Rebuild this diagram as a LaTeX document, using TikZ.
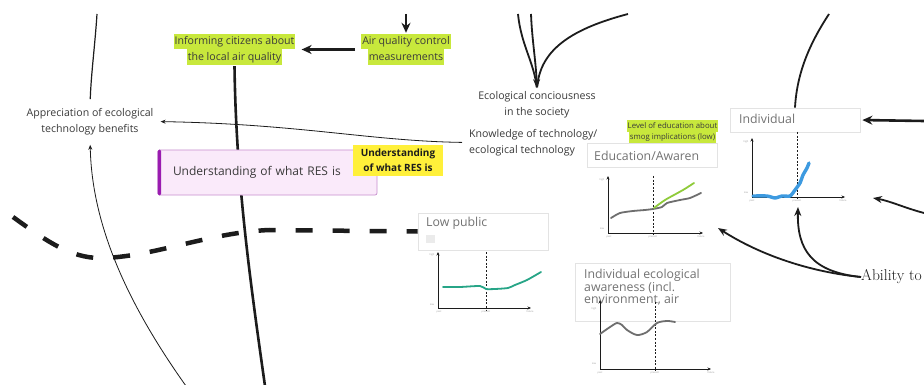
\documentclass[tikz,border=0pt]{standalone}
\usepackage{fontspec}
\newfontfamily\osans{Open Sans}
\usetikzlibrary{arrows.meta}

\definecolor{ink}{HTML}{3A3A3A}
\definecolor{hlgreen}{HTML}{C8E83C}
\definecolor{stickyyellow}{HTML}{FFF03A}
\definecolor{resfill}{HTML}{FAEAFA}
\definecolor{resedge}{HTML}{C78FCE}
\definecolor{resbar}{HTML}{9A1CB0}
\definecolor{cardedge}{HTML}{E3E3E3}
\definecolor{cardtext}{HTML}{727272}
\definecolor{cardchip}{HTML}{EBEBEB}
\definecolor{trendteal}{HTML}{27A587}
\definecolor{trendblue}{HTML}{3D9AE0}
\definecolor{trendlime}{HTML}{8FCB3A}
\definecolor{trendgray}{HTML}{6E6E6E}
\definecolor{tickgray}{HTML}{9A9A9A}
\definecolor{strokeblack}{HTML}{1C1C1C}

% highlighter strips behind single lines of text
\setlength{\fboxsep}{1pt}
\newcommand\hlline[1]{\colorbox{hlgreen}{\rule[-3.7pt]{0pt}{13.5pt}#1}}
\newcommand\hlsmall[1]{\colorbox{hlgreen}{\rule[-2.8pt]{0pt}{9.5pt}#1}}

\tikzset{
  txt/.style={font=\osans\fontsize{10.6}{15.5}\selectfont, text=ink, align=center, inner sep=1pt},
  smalltxt/.style={font=\osans\fontsize{7.8}{11.5}\selectfont, text=ink, align=center, inner sep=1pt},
  resbox/.style={draw=resedge, fill=resfill, line width=0.7pt, rounded corners=2pt,
    minimum width=219pt, minimum height=45pt, text width=189pt, inner xsep=15pt, inner ysep=0pt,
    align=left, font=\osans\fontsize{12}{14}\selectfont, text=ink},
  stickynote/.style={fill=stickyyellow, minimum width=90pt, minimum height=31pt, inner sep=2pt,
    align=center, font=\osans\bfseries\fontsize{10}{15}\selectfont, text=strokeblack},
  card/.style={draw=cardedge, fill=white, line width=0.8pt, inner sep=0pt},
  cardtitle/.style={font=\osans\fontsize{12.3}{12.5}\selectfont, text=cardtext, inner sep=0pt, align=left},
  tick/.style={font=\osans\fontsize{2.4}{3}\selectfont, text=tickgray, inner sep=0pt},
  thinarrow/.style={draw=strokeblack, line width=0.8pt, -{Stealth[length=5pt,width=4pt]}},
  thinline/.style={draw=strokeblack, line width=1.2pt},
  midline/.style={draw=strokeblack, line width=1.8pt},
  midarrow/.style={midline, -{Stealth[length=9pt,width=7pt]}},
  thickline/.style={draw=strokeblack, line width=2.6pt},
  thickarrow/.style={thickline, -{Stealth[length=10pt,width=9pt]}},
  dashline/.style={draw=strokeblack, line width=4.5pt, dash pattern=on 17pt off 20pt},
  axis/.style={draw=strokeblack, line width=0.6pt,
    {Stealth[length=3.5pt,width=3pt]}-{Stealth[length=3.5pt,width=3pt]}},
  presentline/.style={draw=strokeblack, line width=0.6pt, dash pattern=on 2pt off 1.6pt},
  trend/.style={line width=1.8pt, line join=round, line cap=round},
}

\begin{document}
\begin{tikzpicture}[x=1pt,y=-1pt]
\useasboundingbox (0,0) rectangle (924,385);
\fill[white] (0,0) rectangle (924,385);
\clip (0,0) rectangle (924,385);

% ---------- loose ends of connectors ----------
\coordinate (topA) at (97,14);
\coordinate (topB) at (406,14);
\coordinate (topC1) at (518,14);
\coordinate (topC2) at (531,14);
\coordinate (topC3) at (628,14);
\coordinate (topD) at (829,14);
\coordinate (rightE) at (924,121);
\coordinate (rightF) at (924,213);
\coordinate (botG) at (186,386);
\coordinate (botH) at (265,386);
\coordinate (dashS) at (13,217);
\coordinate (edutip) at (718,228);
\coordinate (indtip) at (798,207);
\coordinate (indtipR) at (873,198);

% ---------- text labels ----------
\node[txt] (appr) at (90,121.5) {Appreciation of ecological\\technology benefits};
\node[txt] (inform) at (234.5,49.5) {\hlline{Informing citizens about}\\\hlline{the local air quality}};
\node[txt] (aqc) at (406,49.5) {\hlline{Air quality control}\\\hlline{measurements}};
\node[txt] (ecocon) at (537,104.5) {Ecological conciousness\\in the society};
\node[txt, align=left, anchor=west] (know) at (468,142.5) {Knowledge of technology/\\ecological technology};
\node[smalltxt] (edulevel) at (672.5,132) {\hlsmall{Level of education about}\\\hlsmall{smog implications (low)}};
\node[font=\rmfamily\fontsize{15.6}{19}\selectfont, text=strokeblack, anchor=west, inner sep=0pt] (ability) at (861,277) {Ability to};

% ---------- connectors behind the boxes ----------
\draw[thickline] (inform.south) .. controls (236,180) and (250,280) .. (botH);
\draw[thinline, shorten >=8pt] (topA) .. controls (95,45) and (91,75) .. (appr.north);
\draw[thinarrow, shorten >=9pt] (botG) .. controls (132,310) and (92,230) .. (appr.south);
\draw[thinarrow, shorten <=6pt, shorten >=6pt] (know.west) .. controls (370,141) and (300,124) .. (appr.east);
\draw[thickarrow, shorten <=5pt, shorten >=5pt] (aqc.west) -- (inform.east);
\draw[thickarrow] (topB) -- (aqc.north);
\draw[midline, shorten >=3pt] (topC1) .. controls (521,45) and (534,62) .. (ecocon.north);
\draw[midline, shorten >=3pt] (topC3) .. controls (575,28) and (540,48) .. (ecocon.north);
\draw[midarrow, shorten >=2pt] (topC2) .. controls (532,40) and (536,62) .. (ecocon.north);

% ---------- understanding box and sticky note ----------
\node[resbox] (res) at (267.5,172.5) {Understanding of what RES is};
\fill[resbar, rounded corners=1.5pt] (res.north west) rectangle ([xshift=3.5pt]res.south west);
\node[stickynote] (resnote) at (398,160.5) {Understanding\\of what RES is};

% ---------- cards ----------
\node[card, minimum width=130pt, minimum height=37pt] (lowpub) at (483,231.5) {};
\node[cardtitle, anchor=west] (lowpub-title) at (426,223.5) {Low public};
\fill[cardchip] (426,235) rectangle (435,243);

\node[card, minimum width=130pt, minimum height=24pt] (edu) at (652,155) {};
\node[cardtitle, anchor=west] (edu-title) at (594,155.5) {Education/Awaren};

\node[card, minimum width=130pt, minimum height=24pt] (indiv) at (795,120) {};
\node[cardtitle, anchor=west] (indiv-title) at (739,119) {Individual};

\node[card, minimum width=155pt, minimum height=58pt] (indeco) at (652.5,292) {};
\node[cardtitle, anchor=north west] (indeco-title) at (584,269) {Individual ecological\\awareness (incl.\\environment, air};

% ---------- dashed boundary ----------
\draw[dashline] (dashS) .. controls (45,240) and (70,258) .. (100,258)
  .. controls (150,258) and (210,232) .. (270,230) -- (lowpub.west);

% ---------- remaining connectors ----------
\draw[midline] (topD) .. controls (812,40) and (797,70) .. (indiv.north);
\draw[thickarrow, shorten >=2pt] (rightE) -- (indiv.east);
\draw[midarrow] (ability.west) .. controls (810,272) and (760,255) .. (edutip);
\draw[midarrow] (ability.west) .. controls (812,272) and (797,250) .. (indtip);
\draw[midarrow] (rightF) .. controls (905,208) and (890,201) .. (indtipR);

% ---------- chart: low public ----------
\draw[axis] (438,252) -- (438,308) -- (531,308);
\draw[presentline] (486,252) -- (486,310);
\draw[trend, trendteal] plot[smooth, tension=0.4] coordinates {(443,287) (460,287) (480,286) (486,289) (495,289) (508,288) (515,285) (527,280) (541,272)};
\node[tick] (lp-hi) at (432,255) {high};
\node[tick] (lp-lo) at (432,305) {low};
\node[tick] (lp-past) at (439,312) {past};
\node[tick] (lp-now) at (486,312) {present};
\node[tick] (lp-fut) at (530,312) {future};

% ---------- chart: education ----------
\draw[axis] (608,176) -- (608,233) -- (703,233);
\draw[presentline] (653,176) -- (653,235);
\draw[trend, trendgray] plot[smooth, tension=0.4] coordinates {(611,218) (620,213) (633,211) (645,210) (653,209) (662,207) (667,203) (680,200) (690,198) (701,193)};
\draw[trend, trendlime] plot[smooth, tension=0.4] coordinates {(654,208) (665,200) (683,190) (694,183)};
\node[tick] (ed-hi) at (602,180) {high};
\node[tick] (ed-lo) at (602,229) {low};
\node[tick] (ed-past) at (609,237) {past};
\node[tick] (ed-now) at (653,237) {present};
\node[tick] (ed-fut) at (701,237) {future};

% ---------- chart: individual ----------
\draw[axis] (752,138) -- (752,197) -- (845,197);
\draw[presentline] (797,132) -- (797,200);
\draw[trend, trendblue, line width=3.4pt] plot[smooth, tension=0.4] coordinates {(753,196) (767,196) (775,198) (782,196) (790,196) (795,190) (800,183) (803,175) (807,168) (809,163)};
\node[tick] (in-hi) at (746,142) {high};
\node[tick] (in-lo) at (746,193) {low};
\node[tick] (in-past) at (752,201) {past};
\node[tick] (in-now) at (797,201) {present};
\node[tick] (in-fut) at (843,201) {future};

% ---------- chart: individual ecological awareness ----------
\draw[axis] (600,300) -- (600,369) -- (711,369);
\draw[presentline] (655,302) -- (655,371);
\draw[trend, trendgray] plot[smooth, tension=0.5] coordinates {(600,334) (610,327) (617,323) (622,325) (627,330) (637,335) (647,332) (657,323) (667,321) (675,322)};
\node[tick] (ie-hi) at (594,309) {high};
\node[tick] (ie-lo) at (594,364) {low};
\node[tick] (ie-past) at (600,373) {past};
\node[tick] (ie-now) at (655,373) {present};
\node[tick] (ie-fut) at (711,373) {future};
\end{tikzpicture}
\end{document}
